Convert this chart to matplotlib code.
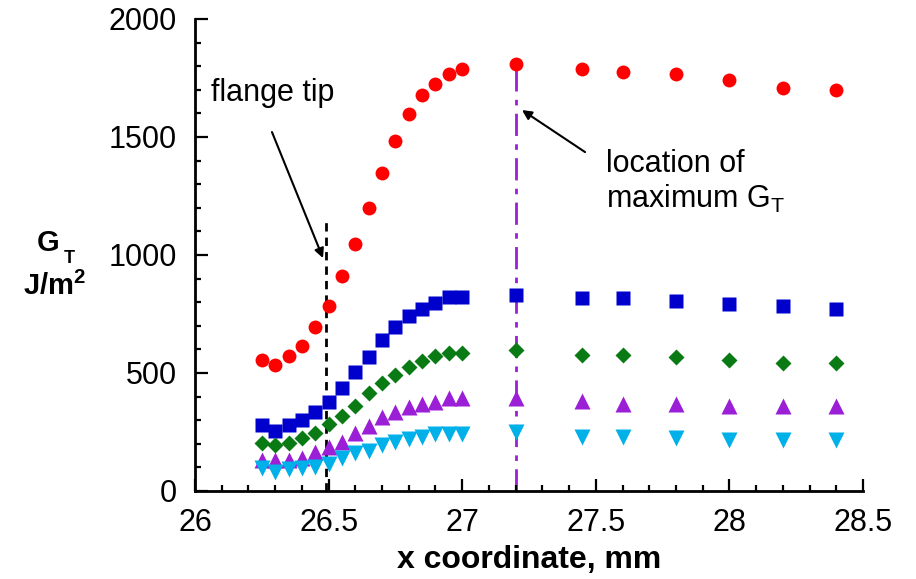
import matplotlib
matplotlib.use("Agg")
import matplotlib.pyplot as plt
from matplotlib.ticker import MultipleLocator

plt.rcParams["font.family"] = ["Liberation Sans", "DejaVu Sans"]
plt.rcParams["mathtext.fontset"] = "custom"
plt.rcParams["mathtext.rm"] = "Liberation Sans"
plt.rcParams["mathtext.bf"] = "Liberation Sans:bold"

# x positions (mm)
x = [26.25, 26.3, 26.35, 26.4, 26.45, 26.5, 26.55, 26.6, 26.65, 26.7, 26.75,
     26.8, 26.85, 26.9, 26.95, 27.0, 27.2, 27.45, 27.6, 27.8, 28.0, 28.2, 28.4]

# G_T values (J/m^2) for the five series
g_red = [557, 534, 570, 613, 695, 785, 909, 1045, 1200, 1348, 1485,
         1596, 1676, 1723, 1765, 1789, 1811, 1787, 1775, 1765, 1743, 1706, 1697]
g_blue = [279, 256, 279, 299, 333, 379, 435, 503, 569, 640, 694,
          742, 773, 795, 821, 821, 830, 818, 818, 807, 793, 782, 771]
g_green = [205, 193, 205, 223, 247, 284, 318, 362, 414, 459, 492,
           527, 552, 573, 583, 583, 597, 578, 578, 567, 555, 544, 544]
g_purple = [131, 131, 131, 138, 164, 185, 209, 244, 277, 312, 333,
            357, 369, 378, 393, 393, 393, 383, 370, 369, 359, 359, 359]
g_cyan = [96, 82, 93, 96, 103, 114, 138, 160, 171, 195, 206,
          219, 230, 242, 242, 242, 251, 230, 230, 225, 218, 218, 218]

flange_x = 26.49
max_x = 27.2

fig = plt.figure(figsize=(9.16, 5.79), dpi=100)
ax = fig.add_axes([0.2129, 0.152, 0.7292, 0.8152])

ax.plot([flange_x, flange_x], [0, 1150], color="black", lw=2, ls=(0, (3, 2.2)), zorder=1)
ax.plot([max_x, max_x], [0, 1830], color="#9a1fd6", lw=2,
        ls=(0, (8, 3, 2, 3)), zorder=1)

ax.plot(x, g_red, "o", color="#ff0000", ms=10, mec="none", zorder=3)
ax.plot(x, g_blue, "s", color="#0000cc", ms=10.5, mec="none", zorder=3)
ax.plot(x, g_green, "D", color="#0a7a14", ms=8.5, mec="none", zorder=3)
ax.plot(x, g_purple, "^", color="#9a1fd6", ms=11, mec="none", zorder=3)
ax.plot(x, g_cyan, "v", color="#00b0e8", ms=11, mec="none", zorder=3)

ax.set_xlim(26, 28.5)
ax.set_ylim(0, 2000)
ax.xaxis.set_major_locator(MultipleLocator(0.5))
ax.xaxis.set_minor_locator(MultipleLocator(0.1))
ax.yaxis.set_major_locator(MultipleLocator(500))
ax.yaxis.set_minor_locator(MultipleLocator(100))
ax.set_xticks([26, 26.5, 27, 27.5, 28, 28.5], ["26", "26.5", "27", "27.5", "28", "28.5"])

for s in ["top", "right"]:
    ax.spines[s].set_visible(False)
for s in ["left", "bottom"]:
    ax.spines[s].set_linewidth(2)
ax.tick_params(which="major", direction="in", length=9, width=1.6, labelsize=22)
ax.tick_params(which="minor", direction="in", length=4, width=1.6)
ax.tick_params(axis="x", which="major", pad=12)
ax.tick_params(axis="y", which="major", pad=13)

ax.set_xlabel("x coordinate, mm", fontsize=23, fontweight="bold", labelpad=5)

fig.text(0.052, 0.58, "G", fontsize=21, fontweight="bold", ha="center", va="center")
fig.text(0.076, 0.553, "T", fontsize=13, fontweight="bold", ha="center", va="center")
fig.text(0.06, 0.505, "J/m$^\\mathbf{2}$", fontsize=21, fontweight="bold",
         ha="center", va="center")

ax.annotate("flange tip", xy=(26.479, 987), xytext=(26.06, 1686),
            fontsize=22, ha="left", va="center")
ax.annotate("", xy=(26.479, 987), xytext=(26.288, 1521),
            arrowprops=dict(arrowstyle="-|>", color="black", lw=1.5,
                            mutation_scale=14, shrinkA=0, shrinkB=0))

ax.text(27.54, 1310, "location of\nmaximum G$_\\mathrm{T}$", fontsize=22,
        ha="left", va="center", linespacing=1.15)
ax.annotate("", xy=(27.224, 1614), xytext=(27.46, 1436),
            arrowprops=dict(arrowstyle="-|>", color="black", lw=1.5,
                            mutation_scale=14, shrinkA=0, shrinkB=0))

fig.savefig("out.png", dpi=100)
